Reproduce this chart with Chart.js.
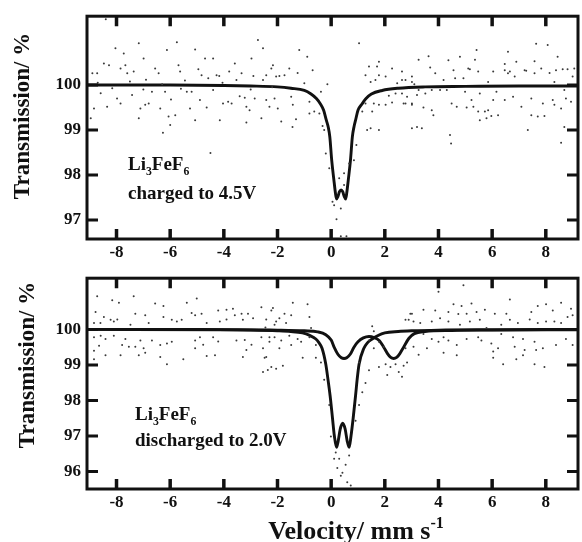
<!DOCTYPE html>
<html>
<head>
<meta charset="utf-8">
<title>Li3FeF6 Mossbauer spectra</title>
<script src="https://cdn.jsdelivr.net/npm/chart.js@4.4.1/dist/chart.umd.min.js"></script>
<style>
  body { margin: 0; background: #fff; }
  #wrap { position: relative; width: 582px; height: 542px; }
  canvas { position: absolute; left: 0; }
</style>
</head>
<body>
<div id="wrap">
  <canvas id="chartTop" width="582" height="262" style="top:0"></canvas>
  <canvas id="chartBottom" width="582" height="280" style="top:262px"></canvas>
</div>
<script>
// ticks
var velTicks = [-8, -6, -4, -2, 0, 2, 4, 6, 8];
var topTransTicks = [97, 98, 99, 100];
var bottomTransTicks = [96, 97, 98, 99, 100];

// upper panel: measured points (velocity mm/s, transmission %)
var topDotVel = [
  -8.96, -8.90, -8.84, -8.72, -8.70, -8.59, -8.47, -8.40, -8.35, -8.28, -8.16, -8.04,
  -7.98, -7.85, -7.85, -7.73, -7.67, -7.60, -7.50, -7.42, -7.36, -7.17, -7.17, -7.11,
  -7.00, -6.99, -6.93, -6.90, -6.80, -6.68, -6.56, -6.43, -6.37, -6.30, -6.27, -6.19,
  -6.12, -6.06, -6.00, -5.97, -5.81, -5.75, -5.69, -5.63, -5.60, -5.45, -5.38, -5.26,
  -5.20, -5.07, -5.07, -4.95, -4.89, -4.83, -4.70, -4.64, -4.58, -4.50, -4.40, -4.40,
  -4.27, -4.17, -4.15, -4.05, -4.03, -3.84, -3.80, -3.71, -3.59, -3.53, -3.41, -3.34,
  -3.22, -3.16, -3.16, -3.04, -3.00, -2.97, -2.90, -2.85, -2.73, -2.60, -2.54, -2.54,
  -2.42, -2.42, -2.30, -2.23, -2.20, -2.17, -2.11, -2.05, -1.99, -1.93, -1.86, -1.74,
  -1.56, -1.49, -1.44, -1.43, -1.31, -1.25, -1.19, -1.00, -0.89, -0.81, -0.81, -0.69,
  -0.63, -0.44, -0.38, -0.32, -0.26, -0.20, -0.14, -0.07, 0.05, 0.11, 0.20, 0.30,
  0.36, 0.36, 0.48, 0.48, 0.57, 0.67, 0.85, 0.94, 1.04, 1.16, 1.28, 1.28,
  1.34, 1.41, 1.47, 1.47, 1.53, 1.59, 1.65, 1.71, 1.78, 1.78, 1.78, 1.78,
  2.03, 2.03, 2.15, 2.27, 2.27, 2.40, 2.46, 2.64, 2.64, 2.64, 2.70, 2.77,
  2.77, 2.83, 3.01, 3.01, 3.01, 3.01, 3.01, 3.10, 3.20, 3.20, 3.26, 3.26,
  3.38, 3.44, 3.51, 3.63, 3.69, 3.75, 3.75, 3.81, 3.88, 4.06, 4.19, 4.31,
  4.37, 4.43, 4.47, 4.49, 4.56, 4.62, 4.68, 4.80, 4.93, 4.99, 5.05, 5.11,
  5.17, 5.23, 5.30, 5.36, 5.42, 5.48, 5.48, 5.54, 5.54, 5.73, 5.79, 5.85,
  5.85, 5.97, 6.04, 6.04, 6.16, 6.22, 6.47, 6.47, 6.47, 6.59, 6.59, 6.66,
  6.78, 6.84, 6.90, 7.09, 7.21, 7.27, 7.33, 7.46, 7.46, 7.58, 7.58, 7.64,
  7.70, 7.83, 7.89, 7.95, 8.07, 8.14, 8.26, 8.32, 8.32, 8.38, 8.44, 8.57,
  8.57, 8.63, 8.69, 8.69, 8.75, 8.81, 8.94, 9.00, 9.06
];
var topDotTrans = [
  99.26, 100.26, 99.48, 100.26, 100.05, 99.82, 100.48, 101.46, 99.52, 100.44, 99.93, 100.82,
  99.70, 100.37, 99.59, 100.70, 100.44, 100.26, 100.08, 99.78, 100.30, 100.93, 99.26, 99.48,
  99.90, 100.59, 99.56, 100.12, 99.59, 99.85, 100.37, 100.26, 99.48, 100.02, 98.94, 99.85,
  100.78, 99.30, 99.11, 99.68, 99.33, 100.95, 100.44, 100.30, 99.92, 100.10, 99.85, 99.48,
  99.85, 100.79, 99.22, 100.35, 99.67, 100.22, 100.59, 99.50, 100.15, 98.49, 100.59, 99.89,
  100.22, 100.20, 99.22, 100.05, 99.59, 99.63, 100.30, 99.59, 100.48, 100.11, 99.75, 100.26,
  99.72, 99.52, 99.17, 99.44, 99.90, 100.59, 100.20, 99.70, 101.00, 99.26, 100.82, 100.11,
  99.67, 100.22, 99.52, 100.37, 99.95, 100.44, 99.70, 100.19, 99.48, 100.20, 99.19, 100.22,
  100.37, 99.74, 99.07, 99.56, 99.24, 100.27, 100.78, 100.04, 100.63, 99.63, 99.37, 100.33,
  99.41, 99.37, 99.85, 99.09, 99.00, 98.48, 100.02, 98.15, 97.41, 97.33, 97.02, 97.93,
  97.26, 96.64, 98.04, 97.78, 96.64, 98.26, 98.33, 98.67, 100.93, 99.41, 100.22, 99.59,
  99.00, 100.41, 100.07, 99.04, 99.41, 99.59, 100.11, 100.41, 100.22, 100.52, 99.56, 99.00,
  100.19, 99.56, 99.76, 100.37, 99.61, 99.81, 100.04, 100.30, 99.81, 100.11, 99.59, 100.11,
  99.59, 99.74, 99.59, 99.04, 100.19, 99.56, 100.07, 100.02, 99.78, 99.07, 100.56, 99.89,
  99.04, 99.50, 99.81, 100.64, 100.39, 99.44, 99.89, 99.33, 100.26, 99.89, 100.11, 99.89,
  100.55, 98.89, 98.70, 99.59, 100.33, 100.15, 99.52, 100.63, 100.15, 99.85, 99.50, 100.37,
  100.35, 99.67, 99.52, 100.56, 100.78, 100.30, 99.41, 99.81, 99.22, 99.41, 99.26, 100.07,
  99.44, 99.31, 100.30, 99.67, 99.85, 99.33, 100.47, 100.33, 99.67, 100.74, 100.26, 100.30,
  99.74, 100.19, 100.52, 99.52, 100.33, 100.32, 99.00, 99.33, 99.70, 100.53, 100.26, 100.92,
  99.30, 100.37, 99.59, 99.31, 100.89, 100.27, 99.67, 100.07, 99.56, 100.33, 100.63, 99.48,
  98.72, 100.35, 99.89, 99.07, 99.70, 100.35, 99.63, 100.19, 100.37
];

// upper panel: fitted doublet
var topFitVel = [
  -9.1, -6, -4, -3, -2, -1.5, -1.0, -0.75, -0.55, -0.4, -0.28, -0.18, -0.11, -0.05,
  0.02, 0.1, 0.16, 0.2, 0.25, 0.31, 0.37, 0.43, 0.49, 0.54, 0.58, 0.64, 0.72, 0.79,
  0.85, 0.91, 1.0, 1.15, 1.3, 1.5, 1.9, 2.5, 3.5, 5, 7, 9.2
];
var topFitTrans = [
  100.0, 100.0, 99.99, 99.98, 99.96, 99.93, 99.88, 99.8, 99.7, 99.58, 99.44, 99.22, 99.07, 98.85,
  98.33, 97.9, 97.6, 97.47, 97.52, 97.63, 97.67, 97.63, 97.52, 97.47, 97.6, 97.9, 98.33, 98.85,
  99.07, 99.22, 99.44, 99.58, 99.7, 99.8, 99.88, 99.93, 99.96, 99.97, 99.98, 99.98
];

// lower panel: measured points
var bottomDotVel = [
  -8.84, -8.84, -8.84, -8.84, -8.78, -8.72, -8.65, -8.60, -8.59, -8.47, -8.41, -8.41,
  -8.22, -8.16, -8.10, -8.10, -7.97, -7.91, -7.85, -7.79, -7.67, -7.54, -7.48, -7.36,
  -7.30, -7.30, -7.17, -7.11, -6.99, -6.93, -6.93, -6.80, -6.68, -6.56, -6.37, -6.37,
  -6.25, -6.25, -6.12, -6.12, -5.94, -5.94, -5.75, -5.57, -5.51, -5.38, -5.20, -5.07,
  -5.07, -5.07, -5.01, -4.89, -4.83, -4.77, -4.64, -4.64, -4.40, -4.33, -4.21, -4.21,
  -4.15, -3.90, -3.90, -3.66, -3.59, -3.53, -3.34, -3.29, -3.29, -3.22, -3.16, -3.10,
  -2.97, -2.91, -2.60, -2.60, -2.54, -2.54, -2.48, -2.45, -2.42, -2.42, -2.36, -2.30,
  -2.30, -2.23, -2.23, -2.17, -2.11, -2.11, -2.05, -2.05, -1.93, -1.93, -1.86, -1.80,
  -1.74, -1.68, -1.56, -1.49, -1.49, -1.43, -1.25, -1.12, -1.06, -0.88, -0.81, -0.81,
  -0.75, -0.57, -0.57, -0.38, -0.26, -0.07, -0.01, 0.11, 0.17, 0.23, 0.30, 0.36,
  0.42, 0.54, 0.60, 0.67, 0.73, 0.91, 1.04, 1.04, 1.16, 1.28, 1.41, 1.41,
  1.53, 1.59, 1.59, 1.78, 1.78, 1.96, 2.03, 2.09, 2.21, 2.40, 2.52, 2.64,
  2.70, 2.77, 2.77, 2.83, 2.89, 2.95, 3.01, 3.07, 3.07, 3.26, 3.32, 3.44,
  3.44, 3.57, 3.75, 3.75, 3.88, 4.00, 4.00, 4.06, 4.19, 4.19, 4.37, 4.37,
  4.37, 4.56, 4.68, 4.68, 4.74, 4.80, 4.86, 4.93, 5.05, 5.05, 5.17, 5.23,
  5.42, 5.48, 5.54, 5.60, 5.73, 5.79, 5.97, 6.04, 6.04, 6.10, 6.22, 6.34,
  6.34, 6.41, 6.53, 6.66, 6.66, 6.78, 6.84, 6.90, 6.96, 7.15, 7.15, 7.21,
  7.40, 7.46, 7.58, 7.58, 7.64, 7.70, 7.70, 7.89, 7.95, 8.01, 8.01, 8.26,
  8.32, 8.38, 8.57, 8.57, 8.75, 8.81, 8.94, 9.00, 9.00
];
var bottomDotTrans = [
  100.18, 99.78, 99.40, 99.16, 100.49, 100.93, 99.54, 100.18, 99.82, 100.35, 99.73, 99.27,
  100.27, 100.82, 100.22, 99.82, 100.28, 100.75, 99.27, 99.56, 99.73, 99.51, 100.13, 100.93,
  100.44, 99.51, 99.27, 99.69, 99.47, 100.40, 99.34, 100.18, 99.69, 100.73, 99.56, 99.22,
  100.66, 100.35, 99.60, 99.02, 100.27, 99.65, 100.22, 100.27, 99.16, 100.75, 100.46, 100.40,
  99.69, 99.47, 100.87, 99.78, 100.44, 99.57, 100.18, 99.25, 99.78, 99.27, 100.53, 99.66,
  100.22, 100.55, 100.28, 100.58, 100.40, 99.69, 100.44, 100.27, 99.22, 99.70, 99.42, 100.44,
  99.57, 100.31, 100.62, 99.78, 99.47, 98.80, 99.20, 100.05, 100.28, 99.22, 98.86, 99.65,
  99.78, 100.53, 98.94, 100.60, 99.78, 100.13, 100.22, 98.89, 100.31, 99.47, 99.69, 98.98,
  100.44, 100.18, 99.82, 100.40, 99.56, 100.75, 99.73, 99.65, 99.20, 100.71, 100.35, 99.78,
  100.04, 99.56, 99.20, 99.07, 98.58, 97.87, 96.99, 96.36, 96.54, 96.10, 96.36, 95.88,
  95.97, 96.19, 95.70, 96.45, 95.61, 97.43, 97.87, 99.07, 98.23, 98.49, 98.85, 99.69,
  100.09, 99.95, 99.47, 99.65, 98.94, 99.51, 99.02, 98.72, 98.94, 99.02, 98.80, 98.67,
  98.98, 99.47, 100.27, 99.07, 100.27, 100.44, 100.44, 100.22, 99.51, 99.29, 100.18, 100.55,
  99.87, 99.47, 100.22, 99.73, 100.53, 101.06, 99.65, 100.31, 99.78, 99.34, 100.49, 100.22,
  99.69, 100.71, 99.56, 99.27, 100.43, 100.13, 100.66, 101.24, 100.44, 99.73, 100.22, 100.73,
  100.49, 99.78, 100.27, 99.69, 100.55, 100.04, 99.60, 99.38, 99.20, 100.44, 99.47, 100.13,
  99.87, 99.02, 100.44, 100.84, 100.27, 99.78, 99.51, 99.16, 100.18, 99.73, 99.27, 99.42,
  100.28, 100.49, 99.65, 99.02, 99.42, 100.66, 100.18, 99.47, 98.94, 100.71, 100.22, 100.53,
  100.22, 99.56, 100.75, 100.18, 99.73, 100.35, 100.58, 100.40, 99.56
];

// lower panel: main fitted doublet
var bottomFitAVel = [
  -9.1, -5, -3, -2, -1.5, -1.07, -0.8, -0.57, -0.45, -0.34, -0.2, -0.12, -0.04, 0.05,
  0.12, 0.2, 0.26, 0.34, 0.43, 0.52, 0.6, 0.67, 0.74, 0.82, 0.91, 0.97, 1.04, 1.22,
  1.35, 1.53, 1.75, 2.0, 2.5, 3.0, 4.0, 6.0, 9.2
];
var bottomFitATrans = [
  100.0, 100.0, 99.98, 99.96, 99.94, 99.9, 99.83, 99.73, 99.62, 99.47, 99.02, 98.6, 98.14, 97.5,
  97.0, 96.68, 96.85, 97.2, 97.36, 97.2, 96.85, 96.68, 97.0, 97.5, 98.14, 98.6, 99.02, 99.47,
  99.62, 99.73, 99.83, 99.9, 99.94, 99.96, 99.98, 99.99, 100.0
];
// lower panel: second (weaker) doublet
var bottomFitBVel = [
  -9.1, -4, -2, -1, -0.5, -0.2, 0.0, 0.11, 0.25, 0.38, 0.48, 0.58, 0.71, 0.85,
  1.0, 1.2, 1.41, 1.6, 1.8, 1.96, 2.1, 2.22, 2.33, 2.44, 2.56, 2.7, 2.9, 3.1,
  3.5, 4.5, 6, 9.2
];
var bottomFitBTrans = [
  100.0, 99.99, 99.98, 99.96, 99.93, 99.85, 99.7, 99.5, 99.3, 99.2, 99.18, 99.2, 99.3, 99.5,
  99.65, 99.76, 99.8, 99.77, 99.68, 99.5, 99.32, 99.21, 99.18, 99.21, 99.32, 99.5, 99.75, 99.88,
  99.94, 99.97, 99.98, 99.99
];

var SERIF = '"Liberation Serif", "Times New Roman", serif';
var INK = '#111';

function pairs(xs, ys) {
  return xs.map(function(x, i){ return {x: x, y: ys[i]}; });
}

// draw text with sub/superscripts on a baseline
function drawRich(ctx, parts, x, y, size, align) {
  var widths = parts.map(function(p){
    ctx.font = 'bold ' + (p.sub || p.sup ? size * 0.62 : size) + 'px ' + SERIF;
    return ctx.measureText(p.t).width;
  });
  if (align === 'center') {
    x -= widths.reduce(function(a, b){ return a + b; }, 0) / 2;
  }
  ctx.textAlign = 'left';
  ctx.textBaseline = 'alphabetic';
  parts.forEach(function(p, i){
    ctx.font = 'bold ' + (p.sub || p.sup ? size * 0.62 : size) + 'px ' + SERIF;
    var dy = p.sub ? size * 0.25 : (p.sup ? -size * 0.42 : 0);
    ctx.fillText(p.t, x, y + dy);
    x += widths[i];
  });
}

// box, inward tick marks, labels
function framePlugin(p) {
  return {
    id: 'frame',
    afterDraw: function(chart) {
      var ctx = chart.ctx, a = chart.chartArea;
      var sx = chart.scales.x, sy = chart.scales.y;
      ctx.save();
      ctx.strokeStyle = INK;
      ctx.fillStyle = INK;

      ctx.lineWidth = 3.5;
      ctx.beginPath();
      velTicks.forEach(function(v){
        var x = sx.getPixelForValue(v);
        ctx.moveTo(x, a.top); ctx.lineTo(x, a.top + 10);
        ctx.moveTo(x, a.bottom); ctx.lineTo(x, a.bottom - 10);
      });
      ctx.stroke();

      ctx.lineWidth = 3;
      ctx.beginPath();
      p.yTicks.forEach(function(v){
        var y = sy.getPixelForValue(v);
        ctx.moveTo(a.left, y); ctx.lineTo(a.left + 11, y);
        ctx.moveTo(a.right, y); ctx.lineTo(a.right - 11, y);
      });
      ctx.stroke();

      ctx.lineWidth = 3;
      ctx.strokeRect(a.left, a.top, a.right - a.left, a.bottom - a.top);

      drawRich(ctx, [{t: 'Li'}, {t: '3', sub: true}, {t: 'FeF'}, {t: '6', sub: true}], p.noteX, p.noteY1, 19);
      drawRich(ctx, [{t: p.note}], p.noteX, p.noteY2, 19);

      ctx.save();
      ctx.translate(p.titleX, p.titleY);
      ctx.rotate(-Math.PI / 2);
      ctx.font = 'bold 23px ' + SERIF;
      ctx.textAlign = 'center';
      ctx.textBaseline = 'middle';
      ctx.fillText('Transmission/ %', 0, 0);
      ctx.restore();

      if (p.xTitle) {
        drawRich(ctx, [{t: 'Velocity/ mm s'}, {t: '-1', sup: true}], 356, p.xTitleY, 26, 'center');
      }
      ctx.restore();
    }
  };
}

function buildPanel(id, p) {
  var datasets = [{
    data: pairs(p.dotVel, p.dotTrans),
    showLine: false,
    pointRadius: 1.0,
    pointBorderWidth: 0,
    backgroundColor: '#3a3a3a',
    borderColor: '#3a3a3a'
  }];
  p.fits.forEach(function(f){
    datasets.push({
      data: pairs(f[0], f[1]),
      showLine: true,
      pointRadius: 0,
      borderColor: INK,
      borderWidth: 2.9,
      cubicInterpolationMode: 'monotone',
      fill: false
    });
  });

  return new Chart(document.getElementById(id), {
    type: 'scatter',
    data: { datasets: datasets },
    options: {
      responsive: false,
      animation: false,
      layout: { padding: { top: p.padTop, right: 2, left: 0, bottom: 0 } },
      plugins: { legend: { display: false }, tooltip: { enabled: false } },
      scales: {
        x: {
          type: 'linear', min: -9.1, max: 9.2,
          grid: { display: false, drawTicks: false },
          border: { display: false },
          afterBuildTicks: function(s){ s.ticks = velTicks.map(function(v){ return {value: v}; }); },
          ticks: { font: { family: SERIF, size: 17, weight: 'bold' }, color: INK, padding: 3, maxRotation: 0 },
          afterFit: function(s){ s.height = p.xHeight; }
        },
        y: {
          type: 'linear', min: p.yMin, max: p.yMax,
          grid: { display: false, drawTicks: false },
          border: { display: false },
          afterBuildTicks: function(s){ s.ticks = p.yTicks.map(function(v){ return {value: v}; }); },
          ticks: { font: { family: SERIF, size: 17, weight: 'bold' }, color: INK, padding: 6 },
          afterFit: function(s){ s.width = 87; }
        }
      }
    },
    plugins: [framePlugin(p)]
  });
}

buildPanel('chartTop', {
  dotVel: topDotVel, dotTrans: topDotTrans,
  fits: [[topFitVel, topFitTrans]],
  yMin: 96.58, yMax: 101.53, yTicks: topTransTicks,
  padTop: 16, xHeight: 23,
  note: 'charged to 4.5V', noteX: 128, noteY1: 170, noteY2: 199,
  titleX: 23, titleY: 116, xTitle: false
});

buildPanel('chartBottom', {
  dotVel: bottomDotVel, dotTrans: bottomDotTrans,
  fits: [[bottomFitAVel, bottomFitATrans], [bottomFitBVel, bottomFitBTrans]],
  yMin: 95.51, yMax: 101.44, yTicks: bottomTransTicks,
  padTop: 4, xHeight: 53,
  note: 'discharged to 2.0V', noteX: 135, noteY1: 158, noteY2: 184,
  titleX: 28, titleY: 103, xTitle: true, xTitleY: 277
});
</script>
</body>
</html>
